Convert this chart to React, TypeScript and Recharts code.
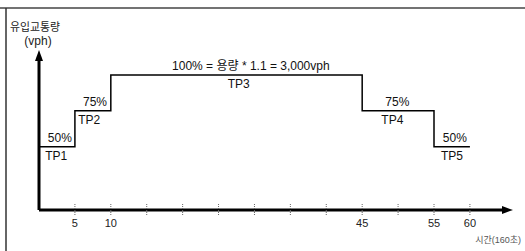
import {
    ComposedChart,
    Line,
    Scatter,
    XAxis,
    YAxis,
    ReferenceLine,
} from "recharts";

// step profile: time (unit) -> share of capacity (%)
const stepX = [0, 5, 10, 45, 55, 60];
const stepLevel = [50, 75, 100, 75, 50, 50];

// labels sitting on each flat segment
const segLevel = [50, 75, 100, 75, 50];
const pctLabels = ["50%", "75%", "100% = 용량 * 1.1 = 3,000vph", "75%", "50%"];
const pctLabelX = [2.9, 7.8, 29.5, 49.9, 57.9];
const tpLabels = ["TP1", "TP2", "TP3", "TP4", "TP5"];
const tpLabelX = [2.4, 7.0, 27.8, 49.2, 57.5];

const xTicks = [5, 10, 15, 20, 25, 30, 35, 40, 45, 50, 55, 60];
const shownTicks = [5, 10, 45, 55, 60];

const X_MAX = 66;
const Y_MIN = 5.9;
const Y_MAX = 117.4;

const FONT = "Arial, 'Liberation Sans', 'Noto Sans CJK KR', sans-serif";

const stepData = stepX.map((x, i) => ({ x, y: stepLevel[i] }));
const pctData = pctLabels.map((t, i) => ({ x: pctLabelX[i], y: segLevel[i], text: t }));
const tpData = tpLabels.map((t, i) => ({ x: tpLabelX[i], y: segLevel[i], text: t }));

const Tick = (props: any) => {
    const { x, y, payload } = props;
    const v = payload.value;
    return (
        <g>
            <line x1={x} x2={x} y1={y - 6} y2={y + 5} stroke="#666" strokeDasharray="1 1" />
            {shownTicks.includes(v) && (
                <text x={x} y={y + 17} textAnchor="middle" fontSize={11} fill="#222" fontFamily={FONT}>
                    {v}
                </text>
            )}
        </g>
    );
};

const arrowShape = (dir: "right" | "up") => (props: any) => {
    const { x1, y1, x2, y2 } = props;
    if (x1 == null) return <g />;
    const head =
        dir === "right"
            ? `M${x2},${y2} L${x2 - 11},${y2 - 4} L${x2 - 11},${y2 + 4} Z`
            : `M${x2},${y2} L${x2 - 4},${y2 + 11} L${x2 + 4},${y2 + 11} Z`;
    return (
        <g>
            <line x1={x1} y1={y1} x2={dir === "right" ? x2 - 6 : x2} y2={dir === "up" ? y2 + 6 : y2} stroke="#000" strokeWidth={3} />
            <path d={head} fill="#000" />
        </g>
    );
};

const TopText = (props: any) => (
    <text x={props.cx} y={props.cy - 5} textAnchor="middle" fontSize={12} fill="#111" fontFamily={FONT}>
        {props.payload.text}
    </text>
);

const BottomText = (props: any) => (
    <text x={props.cx} y={props.cy + 13} textAnchor="middle" fontSize={12} fill="#111" fontFamily={FONT}>
        {props.payload.text}
    </text>
);

const App = () => {
    return (
        <div style={{ position: "absolute", left: 0, top: 0, width: 525, height: 251, background: "#fff" }}>
            <ComposedChart
                width={525}
                height={251}
                margin={{ top: 50, right: 12, left: 39, bottom: 11 }}
            >
                <XAxis
                    type="number"
                    dataKey="x"
                    domain={[0, X_MAX]}
                    ticks={xTicks}
                    interval={0}
                    allowDataOverflow
                    axisLine={false}
                    tickLine={false}
                    tickSize={0}
                    tickMargin={0}
                    height={30}
                    tick={<Tick />}
                />
                <YAxis hide type="number" dataKey="y" domain={[Y_MIN, Y_MAX]} allowDataOverflow />

                <Line
                    data={stepData}
                    type="stepAfter"
                    dataKey="y"
                    stroke="#000"
                    strokeWidth={1.5}
                    dot={false}
                    activeDot={false}
                    isAnimationActive={false}
                />
                <Scatter data={pctData} dataKey="y" shape={<TopText />} isAnimationActive={false} />
                <Scatter data={tpData} dataKey="y" shape={<BottomText />} isAnimationActive={false} />

                <ReferenceLine
                    segment={[{ x: 0, y: Y_MIN }, { x: X_MAX, y: Y_MIN }]}
                    shape={arrowShape("right")}
                />
                <ReferenceLine
                    segment={[{ x: 0, y: Y_MIN }, { x: 0, y: Y_MAX }]}
                    shape={arrowShape("up")}
                />
            </ComposedChart>

            <svg
                width={525}
                height={251}
                style={{ position: "absolute", left: 0, top: 0, pointerEvents: "none" }}
            >
                <line x1={0} y1={8} x2={525} y2={8} stroke="#444" strokeWidth={1.5} />
                <line x1={6} y1={8} x2={6} y2={251} stroke="#333" strokeWidth={1.5} />
                <text x={10} y={31} fontSize={11} fill="#222" fontFamily={FONT} textLength={50} lengthAdjust="spacingAndGlyphs">
                    유입교통량
                </text>
                <text x={38} y={45} textAnchor="middle" fontSize={12} fill="#222" fontFamily={FONT}>
                    (vph)
                </text>
                <text x={521} y={243} textAnchor="end" fontSize={9} fill="#555" fontFamily={FONT}>
                    시간(160초)
                </text>
            </svg>
        </div>
    );
};

export default App;
